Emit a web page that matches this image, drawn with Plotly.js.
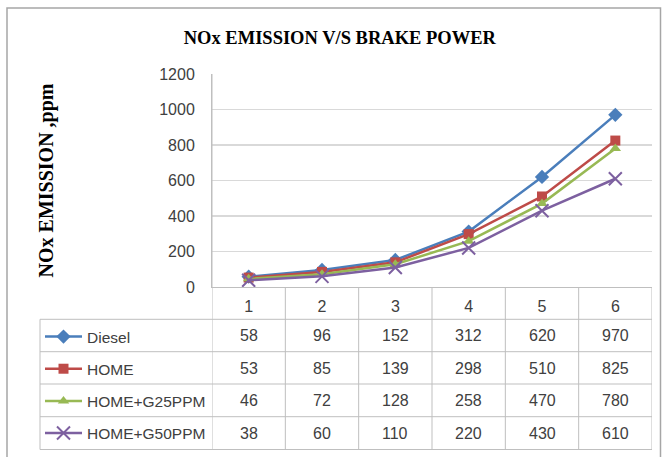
<!DOCTYPE html>
<html>
<head>
<meta charset="utf-8">
<script src="https://cdn.plot.ly/plotly-3.0.1.min.js"></script>
<style>html,body{margin:0;padding:0;background:#fff;}#chart{width:665px;height:457px;}</style>
</head>
<body>
<div id="chart"></div>
<script>
const categories = [1, 2, 3, 4, 5, 6];
const seriesNames = ["Diesel", "HOME", "HOME+G25PPM", "HOME+G50PPM"];
const diesel = [58, 96, 152, 312, 620, 970];
const home = [53, 85, 139, 298, 510, 825];
const homeG25 = [46, 72, 128, 258, 470, 780];
const homeG50 = [38, 60, 110, 220, 430, 610];
const yTicks = [0, 200, 400, 600, 800, 1000, 1200];

const seriesValues = [diesel, home, homeG25, homeG50];
const colors = ["#4a7ebb", "#be4b48", "#98b954", "#7d60a0"];
const symbols = ["diamond", "square", "triangle-up", "x-thin-open"];
const msizes = [11, 10, 10, 13];

const FONT = '"Liberation Sans", Arial, sans-serif';
const SERIF = '"Liberation Serif", "Times New Roman", serif';
const TXT = '#404040';

// geometry helpers (paper coords)
const L = 212, R = 652, T = 74, B = 287;
const px = v => (v - L) / (R - L);
const py = v => (B - v) / (B - T);

const traces = seriesValues.map((vals, i) => ({
  type: 'scatter', mode: 'lines+markers',
  x: categories, y: vals, name: seriesNames[i],
  legendgroup: 'g' + i,
  line: {color: colors[i], width: 2.5},
  marker: {symbol: symbols[i], size: msizes[i], color: colors[i],
           line: {color: colors[i], width: i === 3 ? 2 : 0}}
}));

const rowLines = [319.3, 351.7, 384, 416.7, 449.5];
const rowCenters = [335.5, 368, 400.5, 433];

const shapes = [];
// outer chart border
shapes.push({type: 'rect', xref: 'paper', yref: 'paper', x0: px(7), x1: px(660.5), y0: py(8), y1: py(470),
  line: {color: '#a6a6a6', width: 1.5}});
// table horizontal lines
rowLines.forEach(y => shapes.push({type: 'line', xref: 'paper', yref: 'paper', x0: px(40), x1: 1, y0: py(y), y1: py(y),
  line: {color: '#bfbfbf', width: 1}}));
// table left border
shapes.push({type: 'line', xref: 'paper', yref: 'paper', x0: px(40), x1: px(40), y0: py(rowLines[0]), y1: py(rowLines[4]),
  line: {color: '#bfbfbf', width: 1}});
// column lines
for (let k = 0; k <= categories.length; k++) {
  const xv = categories[0] - 0.5 + k;
  shapes.push({type: 'line', xref: 'x', yref: 'paper', x0: xv, x1: xv, y0: k === 0 ? 1 : 0, y1: py(rowLines[4]),
    line: {color: '#bfbfbf', width: 1}});
}

const annotations = [];
seriesValues.forEach((vals, i) => {
  vals.forEach((v, j) => {
    annotations.push({xref: 'x', yref: 'paper', x: categories[j], y: py(rowCenters[i]),
      text: String(v), showarrow: false, xanchor: 'center', yanchor: 'middle',
      font: {family: FONT, size: 16, color: TXT}});
  });
});

const layout = {
  width: 665, height: 457,
  margin: {l: L, r: 665 - R, t: T, b: 457 - B, autoexpand: false},
  paper_bgcolor: '#ffffff', plot_bgcolor: '#ffffff',
  title: {text: 'NOx EMISSION V/S BRAKE POWER', x: 0.511, xanchor: 'center', y: 1 - 38 / 457, yanchor: 'middle',
    font: {family: SERIF, size: 18.5, color: '#000', weight: 'bold'}},
  xaxis: {range: [0.5, 6.5], tickvals: categories, ticktext: categories.map(String), ticks: '',
    showgrid: false, zeroline: false, showline: true, linecolor: '#bfbfbf', linewidth: 1,
    tickfont: {family: FONT, size: 16, color: TXT}, ticklabelstandoff: 5, fixedrange: true},
  yaxis: {range: [0, 1200], tickvals: yTicks, ticks: '', showgrid: true, gridcolor: '#d9d9d9', gridwidth: 1.5,
    zeroline: false, showline: true, linecolor: '#bfbfbf', linewidth: 1,
    tickfont: {family: FONT, size: 16, color: TXT}, ticklabelstandoff: 13,
    title: {text: 'NOx EMISSION ,ppm', standoff: 100,
      font: {family: SERIF, size: 20, color: '#000', weight: 'bold'}}},
  showlegend: true,
  legend: {x: px(40), xanchor: 'left', y: py(320), yanchor: 'top', bgcolor: 'rgba(0,0,0,0)',
    font: {family: FONT, size: 15.5, color: TXT}, itemwidth: 37, tracegroupgap: 9, traceorder: 'grouped',
    itemclick: false, itemdoubleclick: false},
  shapes: shapes, annotations: annotations
};

Plotly.newPlot('chart', traces, layout, {displayModeBar: false, staticPlot: true});
</script>
</body>
</html>
